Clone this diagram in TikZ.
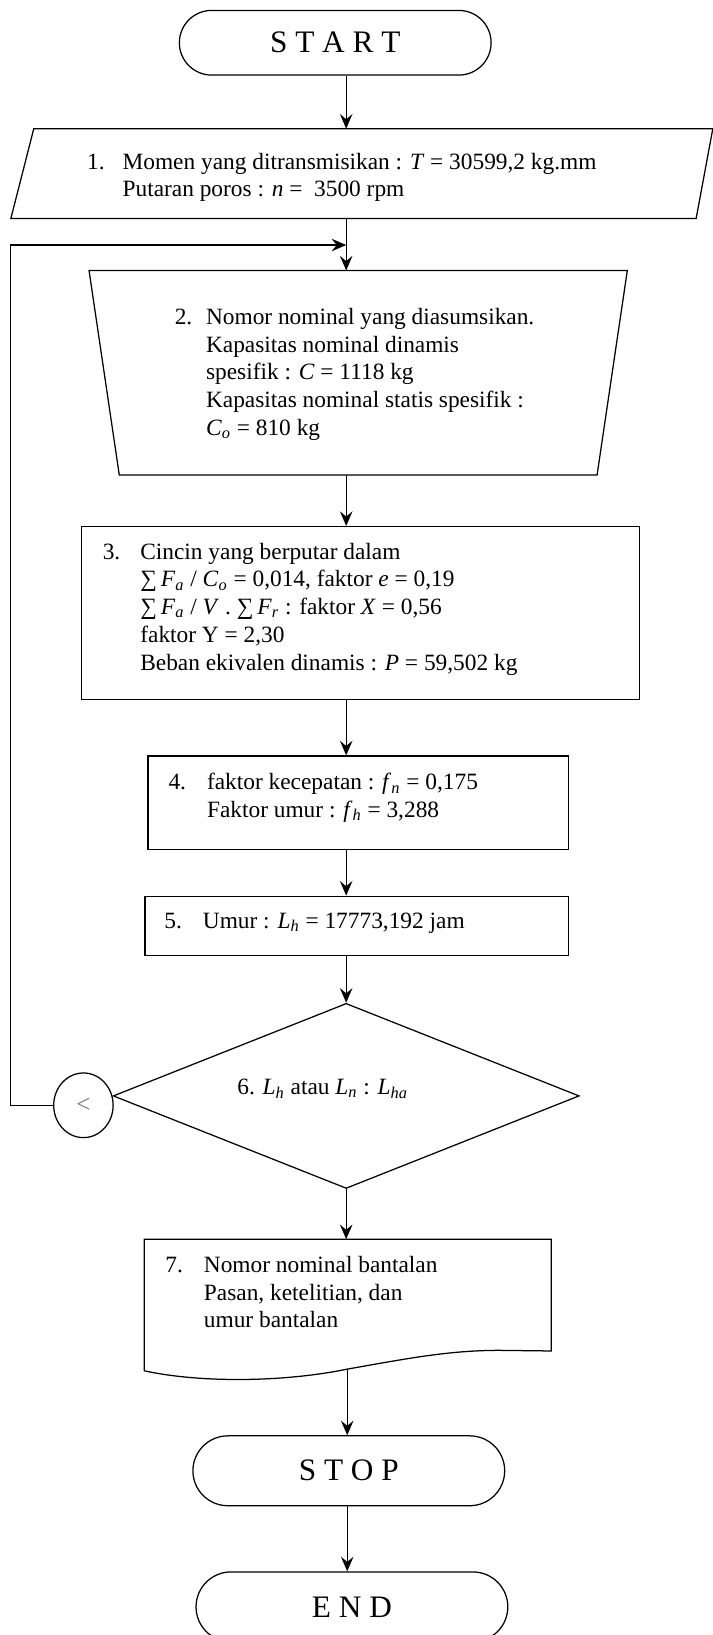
\documentclass[tikz,border=0pt]{standalone}
\usepackage{fontspec}
\setmainfont{Liberation Serif}
\usetikzlibrary{arrows.meta}
\usetikzlibrary{shapes.geometric}
\usetikzlibrary{shapes.misc}
\newcommand{\vs}[2]{\textit{#1}\textsubscript{\textit{#2}}}
\newcommand{\sm}{∑\,}
\newcommand{\itemno}[2][18.5pt]{\makebox[#1][l]{#2}}
\newcommand{\itemin}[1][18.5pt]{\hspace*{#1}}
\begin{document}
\begin{tikzpicture}[x=0.5pt,y=-0.5pt,->,>={Stealth[length=7pt,width=6pt,inset=2.5pt]},line width=0.6pt,
	term/.style={draw,rounded rectangle,inner sep=0pt,font=\fontsize{15}{18}\selectfont},
	box/.style={draw,rectangle,inner sep=0pt},
	frame/.style={rectangle,inner sep=0pt},
	txt/.style={anchor=north west,align=left,inner sep=0pt,font=\fontsize{11.2}{13.3}\selectfont}]
	\useasboundingbox (0,0) rectangle (683,1568);
	\node[term,minimum width=149.5pt,minimum height=31pt] (start) at (321.5,41) {S T A R T};
	\node[frame,minimum width=336pt,minimum height=42.5pt] (p1) at (347,166.5) {};
	\node[frame,minimum width=257.5pt,minimum height=97.5pt] (p2) at (343.5,357.5) {};
	\node[box,minimum width=267.5pt,minimum height=83pt] (b3) at (345.5,588) {};
	\node[box,minimum width=201.5pt,minimum height=45pt] (b4) at (343.5,770) {};
	\node[box,minimum width=203pt,minimum height=28.5pt] (b5) at (342,888) {};
	\node[draw,diamond,minimum width=223.5pt,minimum height=88.75pt,inner sep=0pt] (d6) at (332,1051) {};
	\node[draw,ellipse,minimum width=28.5pt,minimum height=31pt,inner sep=0pt,text=black!55,font=\fontsize{12}{14}\selectfont] (c6) at (80,1060) {<};
	\node[frame,minimum width=194.5pt,minimum height=62.5pt] (b7) at (333.5,1251.5) {};
	\node[term,minimum width=149.5pt,minimum height=33.5pt] (stop) at (334.5,1410.5) {S T O P};
	\node[term,minimum width=149.5pt,minimum height=33.5pt] (finish) at (337.5,1541) {E N D};

	\draw[-] (p1.south west) -- ([xshift=11pt]p1.north west) -- (p1.north east) -- ([xshift=-8pt]p1.south east) -- cycle;
	\draw[-] (p2.north west) -- (p2.north east) -- ([xshift=-14.5pt]p2.south east) -- ([xshift=14.5pt]p2.south west) -- cycle;
	\draw[-] (b7.south west) -- (b7.north west) -- (b7.north east) -- ([yshift=9.5pt]b7.south east) -- (479,1295) .. controls (430,1295) and (390,1303) .. (333,1313) .. controls (270,1326) and (190,1326) .. (b7.south west);

	\node[txt] (t1) at (83,146) {\itemno[17pt]{1.}Momen yang ditransmisikan : \textit{T} = 30599,2 kg.mm\\\itemin[17pt]Putaran poros : \textit{n} =\ \ 3500 rpm};
	\node[txt] (t2) at (167,295) {\itemno[15pt]{2.}Nomor nominal yang diasumsikan.\\\itemin[15pt]Kapasitas nominal dinamis\\\itemin[15pt]spesifik : \textit{C} = 1118 kg\\\itemin[15pt]Kapasitas nominal statis spesifik :\\\itemin[15pt]\vs{C}{o} = 810 kg};
	\node[txt] (t3) at (98,520) {\itemno[18pt]{3.}Cincin yang berputar dalam\\\itemin[18pt]\sm\vs{F}{a} / \vs{C}{o} = 0,014, faktor \textit{e} = 0,19\\\itemin[18pt]\sm\vs{F}{a} / \textit{V} . \sm\vs{F}{r} : faktor \textit{X} = 0,56\\\itemin[18pt]faktor Y = 2,30\\\itemin[18pt]Beban ekivalen dinamis : \textit{P} = 59,502 kg};
	\node[txt] (t4) at (161,741) {\itemno{4.}faktor kecepatan : \vs{f}{n} = 0,175\\\itemin Faktor umur : \vs{f}{h} = 3,288};
	\node[txt] (t5) at (157,875) {\itemno{5.}Umur : \vs{L}{h} = 17773,192 jam};
	\node[txt,anchor=center] (t6) at (309.5,1044) {6. \vs{L}{h} atau \vs{L}{n} : \vs{L}{ha}};
	\node[txt] (t7) at (158,1204) {\itemno{7.}Nomor nominal bantalan\\\itemin Pasan, ketelitian, dan\\\itemin umur bantalan};

	\coordinate (ax) at (332,0);
	\coordinate (j) at (332,235);
	\coordinate (lp) at (10,235);
	\coordinate (w7) at (333,1313);

	\draw (start.south -| ax) -- (p1.north -| ax);
	\draw (p1.south -| ax) -- (p2.north -| ax);
	\draw (p2.south -| ax) -- (b3.north -| ax);
	\draw (b3.south -| ax) -- (b4.north -| ax);
	\draw (b4.south -| ax) -- (b5.north -| ax);
	\draw (b5.south -| ax) -- (d6.north);
	\draw (d6.south) -- (b7.north -| ax);
	\draw (w7) -- (stop.north -| w7);
	\draw (stop.south -| w7) -- (finish.north -| w7);
	\draw (c6.west) -| (lp) -- (j);
\end{tikzpicture}
\end{document}
